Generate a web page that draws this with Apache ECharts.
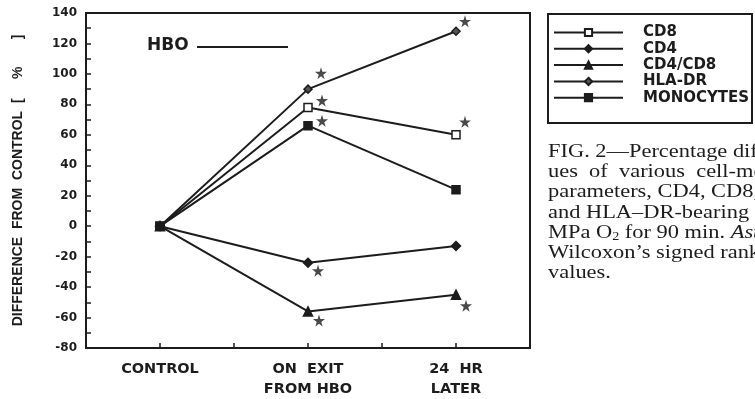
<!DOCTYPE html>
<html>
<head>
<meta charset="utf-8">
<script src="https://cdn.jsdelivr.net/npm/echarts@6/dist/echarts.min.js"></script>
<style>
html,body{margin:0;padding:0;background:#ffffff;}
#chart{width:755px;height:399px;}
</style>
</head>
<body>
<div id="chart"></div>
<script>
// ---- data ----
const categories = ['CONTROL', 'ON  EXIT\nFROM HBO', '24  HR\nLATER'];
const yTicks = [-80, -60, -40, -20, 0, 20, 40, 60, 80, 100, 120, 140];
const seriesNames = ['CD8', 'CD4', 'CD4/CD8', 'HLA-DR', 'MONOCYTES'];
const cd8 = [0, 78, 60];
const cd4 = [0, -24, -13];
const cd4cd8 = [0, -56, -45];
const hladr = [0, 90, 128];
const monocytes = [0, 66, 24];
// significance (asterisk) flags
const cd8Sig = [false, true, true];
const cd4Sig = [false, true, false];
const cd4cd8Sig = [false, true, true];
const hladrSig = [false, true, true];
const monocytesSig = [false, true, false];
const captionLines = [
  'FIG. 2\u2014Percentage differences from control val-',
  'ues  of  various  cell-mediated  immunity',
  'parameters, CD4, CD8, CD4/CD8 ratio,',
  'and HLA\u2013DR-bearing cells',
  'MPa O\u2082 for 90 min. Asterisks',
  'Wilcoxon\u2019s signed rank test',
  'values.'
];

// ---- styles (not data) ----
const INK = '#1c1c1c';
const BOLD = 'DejaVu Sans';
const starPath = 'path://M50,0 L61,35 L98,35 L68,57 L79,91 L50,70 L21,91 L32,57 L2,35 L39,35 Z';
const styleMap = {
  'CD8':       {symbol: 'rect', size: 8, fill: '#ffffff', starOff: [null, [14, -7], [9, -13]]},
  'CD4':       {symbol: 'diamond', size: 9, fill: INK, starOff: [null, [10, 8], null]},
  'CD4/CD8':   {symbol: 'triangle', size: 9, fill: INK, starOff: [null, [11, 9], [10, 11]]},
  'HLA-DR':    {symbol: 'diamond', size: 8, fill: '#555', starOff: [null, [13, -16], [9, -10]]},
  'MONOCYTES': {symbol: 'rect', size: 8, fill: INK, starOff: [null, [14, -5], null]}
};
const valuesByName = {'CD8': cd8, 'CD4': cd4, 'CD4/CD8': cd4cd8, 'HLA-DR': hladr, 'MONOCYTES': monocytes};
const sigByName = {'CD8': cd8Sig, 'CD4': cd4Sig, 'CD4/CD8': cd4cd8Sig, 'HLA-DR': hladrSig, 'MONOCYTES': monocytesSig};

const series = [];
seriesNames.forEach(function (name) {
  const st = styleMap[name];
  series.push({
    name: name,
    type: 'line',
    data: valuesByName[name].map(function (v, i) { return [i, v]; }),
    symbol: st.symbol,
    symbolSize: st.size,
    showAllSymbol: true,
    lineStyle: {color: INK, width: 2},
    itemStyle: {color: st.fill, borderColor: INK, borderWidth: 1.5},
    emphasis: {disabled: true},
    z: 3
  });
});
// control point drawn as filled square on top
series.push({
  type: 'scatter',
  data: [[0, cd8[0]]],
  symbol: 'rect',
  symbolSize: 9,
  itemStyle: {color: INK},
  z: 4,
  silent: true
});
// asterisks
seriesNames.forEach(function (name) {
  const st = styleMap[name];
  const vals = valuesByName[name];
  const sig = sigByName[name];
  const pts = [];
  vals.forEach(function (v, i) {
    if (sig[i]) {
      pts.push({value: [i, v], symbolOffset: st.starOff[i]});
    }
  });
  series.push({
    type: 'scatter',
    data: pts,
    symbol: starPath,
    symbolSize: 12,
    itemStyle: {color: INK},
    silent: true,
    z: 5
  });
});

const chart = echarts.init(document.getElementById('chart'), null, {renderer: 'canvas'});

const serifStyle = {fontFamily: 'Liberation Serif', fontSize: 19, color: INK};
const captionGraphics = captionLines.map(function (line, i) {
  let text = line;
  let rich = {};
  if (line.indexOf('MPa') === 0) {
    text = '{n|MPa O}{s|2}{n| for 90 min. }{i|Asterisks}';
    rich = {
      n: serifStyle,
      s: {fontFamily: 'Liberation Serif', fontSize: 12, color: INK, padding: [9, 0, 0, 0]},
      i: {fontFamily: 'Liberation Serif', fontSize: 19, fontStyle: 'italic', color: INK}
    };
  }
  return {
    type: 'text',
    x: 548,
    y: 152 + i * 20.2,
    scaleX: 1.18,
    style: {
      text: text,
      rich: rich,
      fontFamily: 'Liberation Serif',
      fontSize: 19,
      fill: INK,
      verticalAlign: 'middle',
      textVerticalAlign: 'middle'
    },
    silent: true
  };
});

chart.setOption({
  backgroundColor: '#ffffff',
  animation: false,
  textStyle: {fontFamily: BOLD, color: INK},
  grid: {left: 86, top: 13, right: 225, bottom: 45, show: true, borderColor: INK, borderWidth: 2, backgroundColor: 'transparent'},
  xAxis: {
    type: 'value',
    min: -0.5,
    max: 2.5,
    interval: 0.5,
    splitLine: {show: false},
    axisLine: {show: true, onZero: false, lineStyle: {color: INK, width: 2}},
    axisTick: {show: true, inside: true, length: 5, lineStyle: {color: INK, width: 1.5}},
    axisLabel: {
      color: INK,
      fontFamily: BOLD,
      fontWeight: 'bold',
      fontSize: 14.5,
      lineHeight: 20,
      margin: 11,
      showMinLabel: true,
      showMaxLabel: true,
      formatter: function (v) {
        const idx = Math.round(v);
        if (Math.abs(v - idx) < 1e-6 && idx >= 0 && idx < categories.length) return categories[idx];
        return '';
      }
    }
  },
  yAxis: {
    type: 'value',
    min: yTicks[0],
    max: yTicks[yTicks.length - 1],
    interval: 20,
    name: 'DIFFERENCE  FROM  CONTROL  [     %       ]',
    nameLocation: 'middle',
    nameRotate: 90,
    nameGap: 61,
    nameTextStyle: {fontFamily: 'Liberation Sans', fontWeight: 'bold', fontSize: 14, color: INK},
    splitLine: {show: false},
    axisLine: {show: true, onZero: false, lineStyle: {color: INK, width: 2}},
    axisTick: {show: true, inside: true, length: 5, lineStyle: {color: INK, width: 1.5}},
    minorTick: {show: true, splitNumber: 2, length: 5, lineStyle: {color: INK, width: 1.5}},
    axisLabel: {color: INK, fontFamily: BOLD, fontWeight: 'bold', fontSize: 12, margin: 9}
  },
  legend: {
    data: seriesNames,
    orient: 'vertical',
    left: 553,
    top: 24.5,
    padding: 0,
    itemWidth: 69,
    itemHeight: 9,
    itemGap: 0.3,
    selectedMode: false,
    textStyle: {fontFamily: BOLD, fontWeight: 'bold', fontSize: 15, lineHeight: 16, color: INK, padding: [0, 0, 0, 15]},
    inactiveColor: INK
  },
  graphic: [
    {
      type: 'rect',
      shape: {x: 548, y: 14, width: 204, height: 109},
      style: {fill: 'none', stroke: INK, lineWidth: 2},
      silent: true
    },
    {
      type: 'text',
      x: 147,
      y: 46,
      style: {text: 'HBO', fontFamily: BOLD, fontWeight: 'bold', fontSize: 17, fill: INK, verticalAlign: 'middle', textVerticalAlign: 'middle'},
      silent: true
    },
    {
      type: 'line',
      shape: {x1: 197, y1: 47, x2: 288, y2: 47},
      style: {stroke: INK, lineWidth: 2},
      silent: true
    }
  ].concat(captionGraphics),
  series: series
});
</script>
</body>
</html>
